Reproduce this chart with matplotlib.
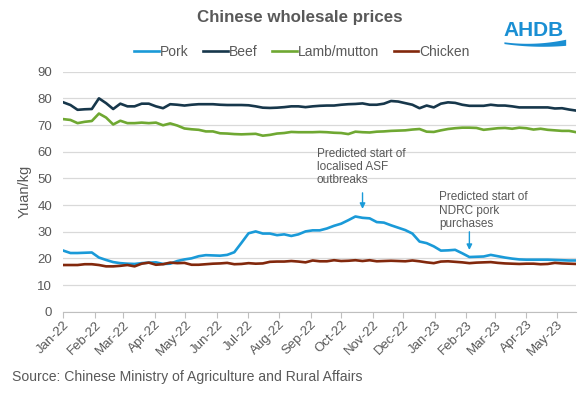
import matplotlib
matplotlib.use("Agg")
import matplotlib.pyplot as plt
import matplotlib.dates as mdates
import numpy as np
import pandas as pd

# weekly prices, Yuan/kg
dates = pd.date_range("2022-01-01", periods=73, freq="7D")

pork = [22.9, 22.0, 22.0, 22.1, 22.2, 20.3, 19.4, 18.6, 18.2, 18.0,
        17.9, 18.2, 18.4, 18.5, 17.9, 18.0, 19.0, 19.6, 20.0, 20.8,
        21.2, 21.1, 21.0, 21.3, 22.3, 25.8, 29.4, 30.1, 29.3, 29.3,
        28.7, 29.0, 28.4, 29.0, 30.1, 30.5, 30.5, 31.2, 32.2, 33.0,
        34.3, 35.7, 35.2, 35.0, 33.6, 33.4, 32.4, 31.5, 30.6, 29.3,
        26.3, 25.7, 24.5, 22.9, 23.0, 23.2, 21.9, 20.5, 20.6, 20.7,
        21.3, 20.8, 20.3, 19.9, 19.6, 19.5, 19.5, 19.5, 19.5, 19.4,
        19.3, 19.2, 19.2]

beef = [78.5, 77.5, 75.7, 75.9, 76.0, 80.0, 78.2, 76.0, 78.0, 77.0,
        77.0, 78.0, 78.0, 77.0, 76.3, 77.8, 77.6, 77.3, 77.6, 77.8,
        77.8, 77.8, 77.6, 77.5, 77.5, 77.5, 77.4, 77.0, 76.5, 76.4,
        76.5, 76.7, 77.0, 77.0, 76.7, 77.0, 77.2, 77.3, 77.3, 77.6,
        77.8, 77.9, 78.1, 77.6, 77.6, 78.0, 79.0, 78.8, 78.2, 77.6,
        76.3, 77.3, 76.6, 78.0, 78.5, 78.3, 77.6, 77.2, 77.2, 77.2,
        77.6, 77.3, 77.3, 77.0, 76.6, 76.6, 76.6, 76.6, 76.6, 76.2,
        76.3, 75.8, 75.4]

lamb = [72.2, 71.9, 70.7, 71.2, 71.5, 74.3, 72.8, 70.2, 71.6, 70.7,
        70.7, 70.9, 70.7, 70.9, 69.9, 70.6, 69.8, 68.7, 68.4, 68.2,
        67.6, 67.6, 66.9, 66.8, 66.6, 66.5, 66.6, 66.7, 66.0, 66.3,
        66.8, 67.0, 67.4, 67.3, 67.3, 67.3, 67.4, 67.3, 67.1, 67.0,
        66.6, 67.5, 67.3, 67.2, 67.5, 67.6, 67.8, 67.9, 68.0, 68.3,
        68.5, 67.5, 67.4, 68.0, 68.5, 68.8, 69.0, 69.0, 68.9, 68.2,
        68.5, 68.8, 68.9, 68.6, 69.0, 68.8, 68.3, 68.6, 68.2, 68.0,
        67.8, 67.8, 67.3]

chicken = [17.5, 17.5, 17.5, 17.8, 17.8, 17.5, 17.0, 17.0, 17.2, 17.5,
           17.0, 18.0, 18.4, 17.6, 17.8, 18.4, 18.2, 18.3, 17.6, 17.6,
           17.8, 18.0, 18.1, 18.3, 17.8, 17.9, 18.2, 18.0, 18.1, 18.7,
           18.8, 18.8, 19.0, 18.8, 18.5, 19.2, 18.9, 18.9, 19.3, 19.0,
           19.1, 19.3, 19.0, 19.3, 18.9, 19.0, 19.1, 19.0, 18.9, 19.2,
           18.9, 18.5, 18.2, 18.8, 18.9, 18.7, 18.5, 18.2, 18.4, 18.5,
           18.6, 18.3, 18.1, 18.0, 17.9, 18.0, 18.0, 17.8, 17.9, 18.3,
           18.1, 18.0, 17.9]

series_names = ["Pork", "Beef", "Lamb/mutton", "Chicken"]
series_colors = ["#1a9ad8", "#17374b", "#6fa832", "#82280c"]

# annotation targets (week index)
asf_week = 42
ndrc_week = 57

GREY = "#595959"
plt.rcParams["font.family"] = ["Liberation Sans", "DejaVu Sans"]

fig = plt.figure(figsize=(5.88, 3.96), dpi=100)
ax = fig.add_axes([0.1077, 0.2129, 0.8723, 0.6061])

for vals, name, col in zip([pork, beef, lamb, chicken], series_names, series_colors):
    ax.plot(dates, vals, color=col, lw=1.9, label=name, solid_joinstyle="round")

ax.set_ylim(0, 90)
ax.set_yticks(range(0, 91, 10))
ax.set_xlim(dates[0], dates[-1])
ax.xaxis.set_major_locator(mdates.MonthLocator())
ax.xaxis.set_major_formatter(mdates.DateFormatter("%b-%y"))
ax.grid(axis="y", color="#d9d9d9", lw=0.9)
ax.set_axisbelow(True)
for s in ["top", "right", "left"]:
    ax.spines[s].set_visible(False)
ax.spines["bottom"].set_color("#bfbfbf")
ax.tick_params(axis="y", length=0, labelsize=9.5, labelcolor=GREY, pad=8)
ax.tick_params(axis="x", length=4, color="#bfbfbf", labelsize=9.5, labelcolor=GREY, pad=1)
for lab in ax.get_xticklabels():
    lab.set_rotation(45)
    lab.set_ha("right")
    lab.set_rotation_mode("anchor")
ax.set_ylabel("Yuan/kg", fontsize=10.5, color=GREY, labelpad=4)

# annotations
ax.annotate("", xy=(dates[asf_week], pork[asf_week] + 2.3),
            xytext=(dates[asf_week], pork[asf_week] + 10.4),
            arrowprops=dict(arrowstyle="-|>", color=series_colors[0], lw=1,
                            mutation_scale=8))
ax.text(dates[asf_week - 6] - pd.Timedelta(days=3), 61.5,
        "Predicted start of\nlocalised ASF\noutbreaks",
        fontsize=8.5, color=GREY, va="top", ha="left", linespacing=1.15)
ax.annotate("", xy=(dates[ndrc_week], pork[ndrc_week] + 1.6),
            xytext=(dates[ndrc_week], pork[ndrc_week] + 10.5),
            arrowprops=dict(arrowstyle="-|>", color=series_colors[0], lw=1,
                            mutation_scale=8))
ax.text(dates[ndrc_week - 4] - pd.Timedelta(days=2), 45.2,
        "Predicted start of\nNDRC pork\npurchases",
        fontsize=8.5, color=GREY, va="top", ha="left", linespacing=1.15)

fig.text(0.51, 0.956, "Chinese wholesale prices", fontsize=12.2, fontweight="bold",
         color=GREY, ha="center", va="center")
fig.legend(loc="center", bbox_to_anchor=(0.514, 0.869), ncol=4, frameon=False,
           fontsize=10, handlelength=1.75, handletextpad=0.1, columnspacing=1.05,
           labelcolor=GREY)

fig.text(0.02, 0.049, "Source: Chinese Ministry of Agriculture and Rural Affairs",
         fontsize=10.1, color=GREY, ha="left", va="center")

# AHDB logo
fig.text(0.908, 0.922, "AHDB", fontsize=15, fontweight="bold", color="#1a8fd3",
         ha="center", va="center")
lax = fig.add_axes([0.857, 0.879, 0.105, 0.022])
t = np.linspace(0, 1, 60)
upper = 0.7 - 0.9 * t + 1.2 * t ** 2
lower = 0.5 - 1.0 * t + 0.8 * t ** 2
lower = np.minimum(lower, upper - 0.08)
lax.fill_between(t, lower, upper, color="#1a8fd3", lw=0)
lax.set_xlim(0, 1)
lax.set_ylim(0, 1)
lax.axis("off")

fig.savefig("out.png", dpi=100)
